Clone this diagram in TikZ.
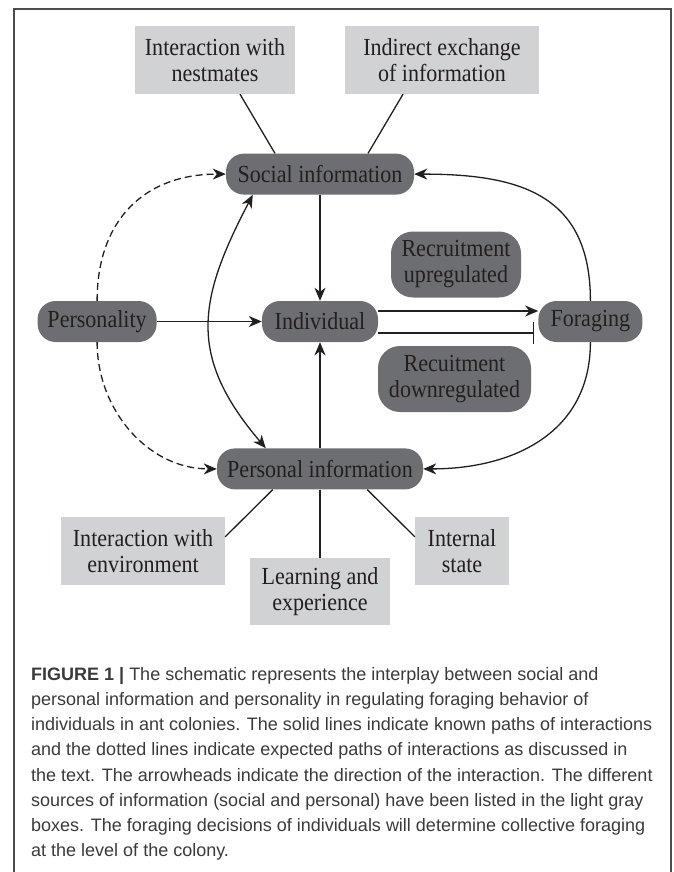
\documentclass[tikz,border=0pt]{standalone}
\usepackage{fontspec}
\setmainfont{Liberation Serif}[FakeStretch=0.9]
\newfontfamily\capfont{Liberation Sans}
\usepackage{xcolor}
\usepackage{tikz}
\usetikzlibrary{arrows.meta,positioning}
\definecolor{hubgray}{HTML}{6D6E71}
\definecolor{srcgray}{HTML}{D1D2D4}
\definecolor{antink}{HTML}{231F20}
\definecolor{capink}{HTML}{3A3A3C}
\definecolor{framegray}{HTML}{4D4D4F}

\begin{document}
\begin{tikzpicture}[
  x=1pt,y=1pt,
  >={Stealth[length=13pt,width=11pt,inset=4pt]},
  hub/.style={fill=hubgray,rounded corners=18pt,minimum height=41pt,inner sep=0pt,
    align=center,font=\fontsize{24.5}{26}\selectfont,text=antink},
  flag/.style={hub,rounded corners=22pt,minimum height=66pt},
  source/.style={fill=srcgray,minimum height=68pt,inner sep=0pt,align=center,
    font=\fontsize{24.5}{26}\selectfont,text=antink},
  link/.style={antink,line width=1.3pt},
  guess/.style={link,dash pattern=on 7pt off 4pt}
]
  \useasboundingbox (0,0) rectangle (673,-872);
  \draw[framegray,line width=1.3pt] (14,-872) -- (14,-9) -- (671,-9) -- (671,-872);

  \node[hub,minimum width=116pt] (individual) at (320,-321.5) {Individual};
  \node[hub,minimum width=188pt,above=106pt of individual] (social) {Social information};
  \node[hub,minimum width=206pt,below=106pt of individual] (personal) {Personal information};
  \node[hub,minimum width=119pt,left=105pt of individual] (personality) {Personality};
  \node[hub,minimum width=104pt,right=160pt of individual] (foraging) {Foraging};
  \node[flag,minimum width=130pt] (upreg) at (456,-264.5) {Recruitment\\upregulated};
  \node[flag,minimum width=153pt] (downreg) at (454.5,-379) {Recuitment\\downregulated};

  \node[source,minimum width=160pt] (nestmates) at (215,-60) {Interaction with\\nestmates};
  \node[source,minimum width=194pt] (indirect) at (442,-60) {Indirect exchange\\of information};
  \node[source,minimum width=164pt] (environment) at (143,-551) {Interaction with\\environment};
  \node[source,minimum width=140pt,minimum height=67pt] (learning) at (320,-591.5) {Learning and\\experience};
  \node[source,minimum width=94pt] (internal) at (462,-551) {Internal\\state};

  \draw[link] ([xshift=25pt]nestmates.south) -- ([xshift=-45pt]social.north);
  \draw[link] ([xshift=-39pt]indirect.south) -- ([xshift=48pt]social.north);
  \draw[link] ([xshift=56pt]personal.south west) -- ([yshift=-20pt]environment.north east);
  \draw[link] (personal) -- (learning);
  \draw[link] ([xshift=-56pt]personal.south east) -- ([yshift=-20pt]internal.north west);

  \draw[link,->] (social) -- (individual);
  \draw[link,->] (personal) -- (individual);
  \draw[link,->] (personality) -- (individual);
  \draw[link,->] ([yshift=10.5pt]individual.east) -- ([yshift=10.5pt]foraging.west);
  \draw[link,-{Bar[width=22pt]},shorten >=4pt]
    ([yshift=-11.5pt]individual.east) -- ([yshift=-11.5pt]foraging.west);

  \draw[link,<->] ([xshift=27pt]social.south west) .. controls (197,-301) and (188,-357)
    .. ([xshift=49pt]personal.north west);
  \draw[guess,->] (personality.north) to[out=90,in=180,looseness=1.15] (social.west);
  \draw[guess,->] (personality.south) to[out=-90,in=180] (personal.west);
  \draw[link,->] (foraging.north) to[out=90,in=0,looseness=1.25] (social.east);
  \draw[link,->] (foraging.south) to[out=-90,in=0,looseness=1.1] (personal.east);

  \node[anchor=north west,inner sep=0pt,align=left,text=capink,
    font=\capfont\fontsize{18}{25.2}\selectfont] (caption) at (31,-667)
    {\textbf{FIGURE 1 |} The schematic represents the interplay between social and\\
     personal information and personality in regulating foraging behavior of\\
     individuals in ant colonies. The solid lines indicate known paths of interactions\\
     and the dotted lines indicate expected paths of interactions as discussed in\\
     the text. The arrowheads indicate the direction of the interaction. The different\\
     sources of information (social and personal) have been listed in the light gray\\
     boxes. The foraging decisions of individuals will determine collective foraging\\
     at the level of the colony.};
\end{tikzpicture}
\end{document}
